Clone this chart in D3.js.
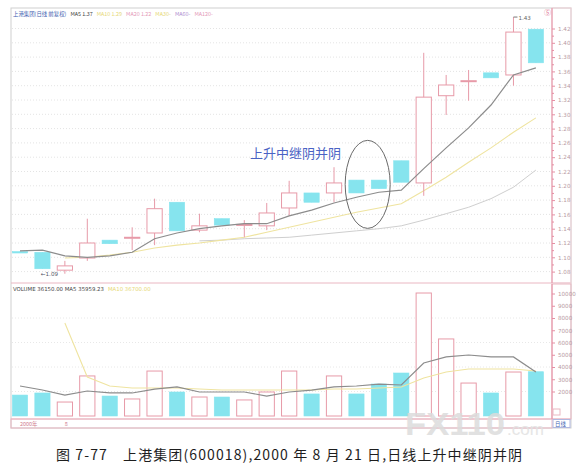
<!DOCTYPE html>
<html><head><meta charset="utf-8">
<script src="https://cdn.jsdelivr.net/npm/d3@7"></script>
<style>body{margin:0;background:#fff}svg{display:block}</style>
</head><body><svg id="c" width="579" height="465"></svg>
<script>
// ---------- data ----------
const days = ["07-19","07-20","07-21","07-24","07-25","07-26","07-27","07-28","07-31","08-01","08-02","08-03",
              "08-04","08-07","08-08","08-09","08-10","08-11","08-14","08-15","08-16","08-17","08-18","08-21"];
const open  = [1.108,1.107,1.082,1.099,1.124,1.127,1.134,1.177,1.138,1.154,1.145,1.144,1.169,1.190,1.190,1.208,1.208,1.235,1.204,1.326,1.346,1.358,1.355,1.419];
const close = [1.106,1.084,1.088,1.120,1.119,1.128,1.168,1.137,1.144,1.145,1.146,1.162,1.190,1.177,1.204,1.190,1.196,1.205,1.324,1.341,1.347,1.351,1.415,1.372];
const high  = [1.108,1.107,1.095,1.154,1.124,1.142,1.182,1.177,1.161,1.154,1.152,1.176,1.207,1.190,1.226,1.208,1.208,1.235,1.386,1.355,1.362,1.358,1.436,1.419];
const low   = [1.106,1.084,1.077,1.095,1.119,1.110,1.117,1.137,1.135,1.145,1.128,1.138,1.158,1.177,1.177,1.190,1.196,1.205,1.186,1.299,1.319,1.351,1.340,1.372];
const ma5   = [1.109,1.110,1.102,1.100,1.102,1.107,1.126,1.134,1.140,1.144,1.147,1.147,1.158,1.166,1.176,1.184,1.191,1.194,1.224,1.253,1.281,1.313,1.355,1.365];
const ma10  = [null,null,1.099,1.100,1.103,1.107,1.113,1.117,1.120,1.124,1.128,1.135,1.142,1.149,1.156,1.163,1.169,1.175,1.193,1.212,1.233,1.253,1.275,1.295];
const ma20  = [null,null,null,null,null,null,null,null,1.123,1.124,1.126,1.127,1.128,1.131,1.134,1.137,1.140,1.144,1.152,1.161,1.170,1.182,1.198,1.222];
const volume = [1710,1880,1140,3270,1630,1390,3670,1960,1550,1550,1310,1960,3670,1800,3270,1800,2610,3510,10040,6290,2690,1880,3590,3615];
const volMa5 = [2450,2120,1710,2040,1880,1880,2200,2370,1960,1960,1960,1630,1960,2120,2370,2450,2610,2530,4330,4820,4980,4820,4820,3596];
const volMa10= [null,null,7590,3180,2450,2290,2290,2290,2200,2120,2120,2120,2120,2120,2200,2200,2290,2370,3100,3590,3840,3840,3840,3670];
const priceTicks = [1.42,1.40,1.38,1.36,1.34,1.32,1.30,1.28,1.26,1.24,1.22,1.20,1.18,1.16,1.14,1.12,1.10,1.08];
const volTicks = [10000,9000,8000,7000,6000,5000,4000,3000,2000];
const volGrid = [2000,4000,6000,8000];
const priceLegend = [["上港集团(日线 前复权)","#4060b0"],["MA5 1.37","#444"],["MA10 1.29","#e6d878"],["MA20 1.22","#e49ab8"],["MA30-","#e6d878"],["MA60-","#b090d0"],["MA120-","#e49ab8"]];
const volLegend = [["VOLUME 36150.00  MA5 35959.23","#444"],["MA10 36700.00","#e6d878"]];
const caption = "图 7-77　上港集团(600018),2000 年 8 月 21 日,日线上升中继阴并阴";
const note = "上升中继阴并阴";

// ---------- layout ----------
const L=11, R=552, T=8, PB=283, VT=284, VB=419, OR=571;
const svg = d3.select("#c");
const CJK = "'Noto Sans CJK SC','Noto Sans',sans-serif";
const pink = "#e79aa8", cyan = "#86e4ee", pinkAxis="#e58fa3";

const xs = d3.scaleBand().domain(days).range([8.8, 547.1]).paddingInner(0.32).paddingOuter(0.16);
const cx = i => xs(days[i]) + xs.bandwidth()/2;
const yP = d3.scaleLinear().domain([1.08,1.42]).range([271.6,28.5]);
const yV = d3.scaleLinear().domain([0,10000]).range([416,293.5]);

// frames
svg.append("rect").attr("x",L).attr("y",T).attr("width",OR-L).attr("height",428-T).attr("fill","none").attr("stroke","#cfcfcf");
// grid
svg.append("g").selectAll("line").data(priceTicks).join("line")
  .attr("x1",L+1).attr("x2",R).attr("y1",d=>yP(d)).attr("y2",d=>yP(d))
  .attr("stroke","#e4e4e4").attr("stroke-dasharray","1,2");
svg.append("g").selectAll("line").data(volGrid).join("line")
  .attr("x1",L+1).attr("x2",R).attr("y1",d=>yV(d)).attr("y2",d=>yV(d))
  .attr("stroke","#e8e8e8").attr("stroke-dasharray","1,2");

// panel separators (pink)
svg.append("line").attr("x1",L).attr("x2",OR).attr("y1",PB).attr("y2",PB).attr("stroke","#eab7c2");
svg.append("line").attr("x1",L).attr("x2",OR).attr("y1",VB).attr("y2",VB).attr("stroke","#eab7c2");
svg.append("rect").attr("x",L).attr("y",VB).attr("width",R-L).attr("height",9).attr("fill","none").attr("stroke","#eab7c2");
svg.append("rect").attr("x",R).attr("y",VT).attr("width",OR-R).attr("height",VB-VT).attr("fill","none").attr("stroke","#eab7c2");
svg.append("rect").attr("x",R).attr("y",T).attr("width",OR-R).attr("height",PB-T).attr("fill","none").attr("stroke","#eecfd6");

// axes
const ax1 = svg.append("g").attr("transform",`translate(${R},0)`)
  .call(d3.axisRight(yP).tickValues(priceTicks).tickSize(3).tickFormat(d3.format(".2f")));
const ax1m = svg.append("g").attr("transform",`translate(${R},0)`)
  .call(d3.axisRight(yP).tickValues(priceTicks.slice(1).map(d=>+(d+0.01).toFixed(2))).tickSize(2).tickFormat(""));
const ax2 = svg.append("g").attr("transform",`translate(${R},0)`)
  .call(d3.axisRight(yV).tickValues(volTicks).tickSize(3).tickFormat(d3.format("d")));
[ax1,ax1m,ax2].forEach(g=>{
  g.select(".domain").remove();
  g.selectAll(".tick line").attr("stroke",pinkAxis);
  g.selectAll("text").attr("fill","#b89aa2").attr("font-size",5.6).attr("font-family","'DejaVu Sans',sans-serif").attr("x",6);
});
svg.append("line").attr("x1",R).attr("x2",R).attr("y1",T).attr("y2",PB).attr("stroke",pinkAxis);
svg.append("line").attr("x1",R).attr("x2",R).attr("y1",VT).attr("y2",VB).attr("stroke",pinkAxis);

// MA lines (price)
const idx = d3.range(days.length);
const lineP = arr => d3.line().defined(i=>arr[i]!=null).x(i=>cx(i)).y(i=>yP(arr[i]))(idx);
svg.append("path").attr("d",lineP(ma20)).attr("fill","none").attr("stroke","#cfcfcf").attr("stroke-width",1);
svg.append("path").attr("d",lineP(ma10)).attr("fill","none").attr("stroke","#efe4a0").attr("stroke-width",1.1);

// candles
const cg = svg.append("g");
idx.forEach(i=>{
  const up = close[i] >= open[i];
  const col = up ? pink : cyan;
  cg.append("line").attr("x1",cx(i)).attr("x2",cx(i)).attr("y1",yP(high[i])).attr("y2",yP(low[i])).attr("stroke",col);
  const y0 = yP(Math.max(open[i],close[i])), h = Math.max(1, Math.abs(yP(open[i])-yP(close[i])));
  cg.append("rect").attr("x",xs(days[i])).attr("width",xs.bandwidth()).attr("y",y0).attr("height",h)
    .attr("fill", up ? "#fff" : cyan).attr("stroke", up ? pink : cyan).attr("stroke-width", up?1:0.6);
});
svg.append("path").attr("d",lineP(ma5)).attr("fill","none").attr("stroke","#8c8c8c").attr("stroke-width",1.2);

// volume bars
const vg = svg.append("g");
idx.forEach(i=>{
  const up = close[i] >= open[i];
  vg.append("rect").attr("x",xs(days[i])).attr("width",xs.bandwidth()).attr("y",yV(volume[i])).attr("height",yV(0)-yV(volume[i]))
    .attr("fill", up ? "#fff" : cyan).attr("stroke", up ? pink : cyan).attr("stroke-width", up?1:0.6);
});
const lineV = arr => d3.line().defined(i=>arr[i]!=null).x(i=>cx(i)).y(i=>yV(arr[i]))(idx);
svg.append("path").attr("d",lineV(volMa10)).attr("fill","none").attr("stroke","#efe4a0").attr("stroke-width",1.1);
svg.append("path").attr("d",lineV(volMa5)).attr("fill","none").attr("stroke","#8c8c8c").attr("stroke-width",1.2);

// legends
let lx = 13;
priceLegend.forEach(([t,c])=>{
  const el = svg.append("text").attr("x",lx).attr("y",16).attr("font-size",5.4).attr("font-family",CJK).attr("fill",c).text(t);
  lx += el.node().getComputedTextLength() + 4;
});
lx = 13;
volLegend.forEach(([t,c])=>{
  const el = svg.append("text").attr("x",lx).attr("y",291).attr("font-size",5.4).attr("font-family","'DejaVu Sans',sans-serif").attr("fill",c).text(t);
  lx += el.node().getComputedTextLength() + 4;
});

// high / low marks
const hi = d3.maxIndex(high), lo = d3.minIndex(low);
svg.append("path").attr("d",`M${cx(hi)},${yP(high[hi])}h4`).attr("stroke","#777").attr("fill","none");
svg.append("text").attr("x",cx(hi)+5).attr("y",yP(high[hi])+3).attr("font-size",5.6).attr("fill","#666")
  .attr("font-family","'DejaVu Sans',sans-serif").text("1.43");
svg.append("text").attr("x",cx(lo)-24).attr("y",yP(low[lo])+2.5).attr("font-size",5.6).attr("fill","#556")
  .attr("font-family","'DejaVu Sans',sans-serif").text("←1.09");

// ellipse around the two small black (blue) candles
const ex = (cx(15)+cx(16))/2;
svg.append("ellipse").attr("cx",ex).attr("cy",yP(1.202)).attr("rx",22.5).attr("ry",44)
  .attr("fill","none").attr("stroke","#6a6a6a").attr("stroke-width",1);
svg.append("text").attr("x",250).attr("y",158).attr("font-size",13).attr("font-family",CJK)
  .attr("fill","#4a62c4").text(note);

// small marks
svg.append("text").attr("x",544).attr("y",15).attr("font-size",7).attr("fill","#e07a96").attr("font-family",CJK).text("⑤");
svg.append("rect").attr("x",553).attr("y",409).attr("width",7).attr("height",6).attr("fill","none").attr("stroke","#eab7c2");
svg.append("text").attr("x",20).attr("y",426).attr("font-size",5.4).attr("fill","#d08090").attr("font-family",CJK).text("2000年");
svg.append("text").attr("x",cx(2)).attr("y",426).attr("font-size",5.4).attr("fill","#d08090").attr("font-family",CJK).text("8");
svg.append("rect").attr("x",553).attr("y",419.5).attr("width",17).attr("height",8).attr("fill","none").attr("stroke","#b0b8e0");
svg.append("text").attr("x",555).attr("y",426).attr("font-size",5.4).attr("fill","#4060b0").attr("font-family",CJK).text("日线");

// watermark
svg.append("text").attr("x",405).attr("y",435).attr("font-size",31).attr("font-weight","bold")
  .attr("font-family","'Liberation Sans',Arial,sans-serif").attr("fill","#dcdcdc").attr("opacity",0.85)
  .attr("textLength",100).attr("lengthAdjust","spacingAndGlyphs").text("FX110");
svg.append("text").attr("x",507).attr("y",435).attr("font-size",17)
  .attr("font-family","'Liberation Sans',Arial,sans-serif").attr("fill","#e2e2e2").attr("opacity",0.85).text(".com");

// caption
svg.append("text").attr("x",56).attr("y",460).attr("font-size",14).attr("font-family",CJK)
  .attr("fill","#1e1e1e").attr("textLength",466).attr("lengthAdjust","spacing").text(caption);
</script></body></html>
